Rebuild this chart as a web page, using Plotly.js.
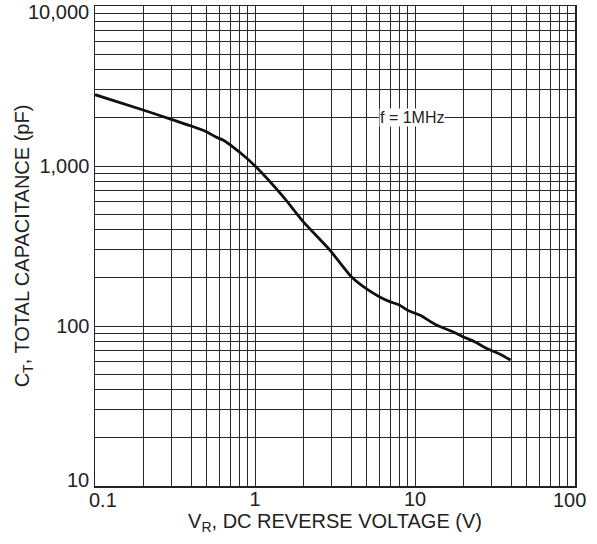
<!DOCTYPE html>
<html>
<head>
<meta charset="utf-8">
<script src="https://cdn.plot.ly/plotly-3.0.1.min.js"></script>
<style>html,body{margin:0;padding:0;background:#fff;}#chart{width:597px;height:544px;}</style>
</head>
<body>
<div id="chart"></div>
<script>
// Reverse voltage (V)
const voltage = [0.1, 0.2, 0.3, 0.4, 0.497, 0.574, 0.631, 0.841, 1.02, 1.5, 2.0, 2.93, 4.0, 5.09, 6.02, 6.95, 8.02, 9.04, 10.7, 13.6, 17.3, 19.95, 23.6, 27.9, 33.8, 39.5];
// Total capacitance (pF)
const capacitance = [2790, 2239, 1958, 1778, 1638, 1511, 1455, 1172, 982, 643, 449, 299, 203, 168, 152, 142, 135, 125, 117, 101.4, 92, 85.7, 79.8, 72.6, 66.8, 61.3];

const xTickVals = [0.1,0.2,0.3,0.4,0.5,0.6,0.7,0.8,0.9,1,2,3,4,5,6,7,8,9,10,20,30,40,50,60,70,80,90,100];
const xTickText = ["0.1","","","","","","","","","1","","","","","","","","","10","","","","","","","","","100"];
const yTickVals = [10,20,30,40,50,60,70,80,90,100,200,300,400,500,600,700,800,900,1000,2000,3000,4000,5000,6000,7000,8000,9000,10000];
const yTickText = ["10","","","","","","","","","100","","","","","","","","","1,000","","","","","","","","","10,000"];

const annotationText = "f = 1MHz";
const annotationX = 10;
const annotationY = 2000;

const gridColor = "#2a2a2a";
const textColor = "#222";
const fontFamily = "Liberation Sans, Arial, sans-serif";

// End labels sit slightly inside the frame in the reference; draw those as annotations
const xLast = xTickVals.length - 1;
const yLast = yTickVals.length - 1;
const xAxisText = xTickText.map((t, i) => (i === 0 || i === xLast) ? "" : t);
const yAxisText = yTickText.map((t, i) => (i === 0 || i === yLast) ? "" : t);

const trace = {
  x: voltage,
  y: capacitance,
  type: "scatter",
  mode: "lines",
  line: {color: "#111", width: 2.8, shape: "spline", smoothing: 0.6},
  hoverinfo: "skip"
};

const labelFont = {size: 20, color: textColor, family: fontFamily};

const layout = {
  width: 597,
  height: 544,
  margin: {l: 95, r: 22, t: 6, b: 58},
  paper_bgcolor: "#fff",
  plot_bgcolor: "#fff",
  showlegend: false,
  font: {family: fontFamily, size: 20, color: textColor},
  xaxis: {
    type: "log",
    range: [-1, 2],
    tickmode: "array",
    tickvals: xTickVals,
    ticktext: xAxisText,
    ticks: "",
    showgrid: true,
    gridcolor: gridColor,
    gridwidth: 1,
    zeroline: false,
    showline: true,
    linecolor: "#222",
    linewidth: 1.5,
    mirror: true,
    automargin: false,
    ticklabelstandoff: -6,
    tickfont: {size: 20, color: textColor},
    title: {text: "V<sub>R</sub>, DC REVERSE VOLTAGE (V)", font: {size: 20, color: textColor}, standoff: 0}
  },
  yaxis: {
    type: "log",
    range: [1, 4],
    tickmode: "array",
    tickvals: yTickVals,
    ticktext: yAxisText,
    ticks: "",
    showgrid: true,
    gridcolor: gridColor,
    gridwidth: 1,
    zeroline: false,
    showline: true,
    linecolor: "#222",
    linewidth: 1.5,
    mirror: true,
    automargin: false,
    tickfont: {size: 20, color: textColor},
    title: {text: "C<sub>T</sub>, TOTAL CAPACITANCE (pF)", font: {size: 20, color: textColor}, standoff: 4}
  },
  annotations: [{
    x: Math.log10(annotationX),
    y: Math.log10(annotationY),
    xref: "x",
    yref: "y",
    xshift: -3,
    text: annotationText,
    showarrow: false,
    bgcolor: "#fff",
    font: {size: 16, color: textColor, family: fontFamily},
    borderpad: 0
  }, {
    x: 0, xref: "paper", xanchor: "right", xshift: -5,
    y: Math.log10(yTickVals[yLast]), yref: "y", yanchor: "middle", yshift: -6,
    text: yTickText[yLast], showarrow: false, borderpad: 0, font: labelFont
  }, {
    x: 0, xref: "paper", xanchor: "right", xshift: -5,
    y: Math.log10(yTickVals[0]), yref: "y", yanchor: "middle", yshift: 6,
    text: yTickText[0], showarrow: false, borderpad: 0, font: labelFont
  }, {
    x: Math.log10(xTickVals[0]), xref: "x", xanchor: "center", xshift: 8,
    y: 0, yref: "paper", yanchor: "top", yshift: -2,
    text: xTickText[0], showarrow: false, borderpad: 0, font: labelFont
  }, {
    x: Math.log10(xTickVals[xLast]), xref: "x", xanchor: "center", xshift: -6,
    y: 0, yref: "paper", yanchor: "top", yshift: -2,
    text: xTickText[xLast], showarrow: false, borderpad: 0, font: labelFont
  }]
};

Plotly.newPlot("chart", [trace], layout, {displayModeBar: false, staticPlot: true});
</script>
</body>
</html>
